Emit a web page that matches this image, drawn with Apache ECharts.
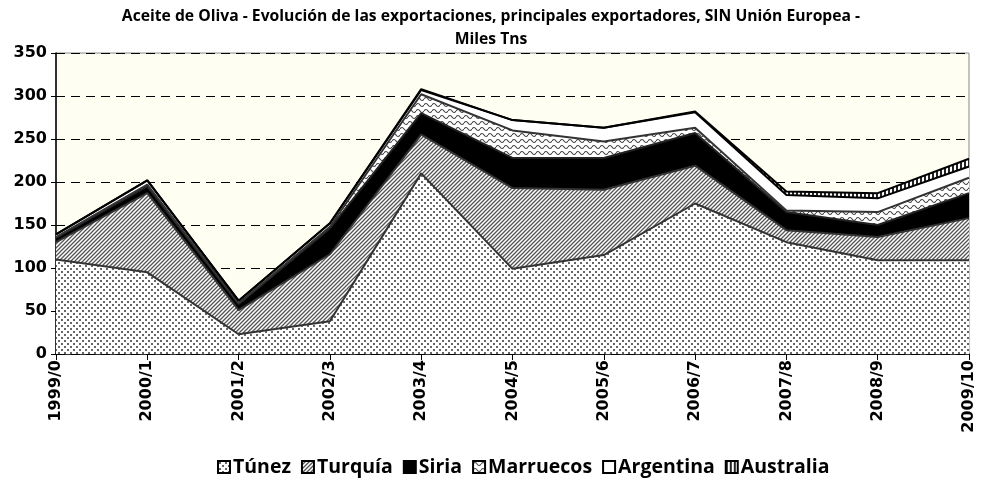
<!DOCTYPE html>
<html>
<head>
<meta charset="utf-8">
<script src="https://cdn.jsdelivr.net/npm/echarts@6/dist/echarts.min.js"></script>
<style>
  html, body { margin: 0; padding: 0; background: #fff; }
  #chart { width: 982px; height: 485px; }
</style>
</head>
<body>
<div id="chart"></div>
<script>
const campaigns = ['1999/0', '2000/1', '2001/2', '2002/3', '2003/4', '2004/5', '2005/6', '2006/7', '2007/8', '2008/9', '2009/10'];
const tunez = [110, 95, 23, 38, 210, 99, 115, 175, 130, 109, 109];
const turquia = [20, 92, 28, 78, 45, 94, 76, 44, 14, 27, 49];
const siria = [5, 8, 7, 30, 25, 35, 37, 38, 21, 14, 29];
const marruecos = [1, 2, 1, 2, 22, 32, 19, 6, 2, 15, 18];
const argentina = [3, 5, 3, 4, 5, 12, 16, 18, 18, 16, 13];
const australia = [0, 0, 0, 0, 1, 0, 0, 1, 4, 6, 9];
const yTicks = [0, 50, 100, 150, 200, 250, 300, 350];

// small canvas patterns, like the old Excel fills
function pattern(w, h, draw, bg) {
  const c = document.createElement('canvas');
  c.width = w; c.height = h;
  const ctx = c.getContext('2d');
  ctx.fillStyle = bg || '#fff';
  ctx.fillRect(0, 0, w, h);
  draw(ctx);
  return { image: c, repeat: 'repeat' };
}

const dots = pattern(6, 6, ctx => {
  ctx.fillStyle = '#666';
  ctx.fillRect(1, 1, 2, 2);
  ctx.fillRect(4, 4, 2, 2);
});
const diag = pattern(4, 4, ctx => {
  ctx.strokeStyle = '#555';
  ctx.lineWidth = 1.3;
  ctx.beginPath();
  ctx.moveTo(-1, 5); ctx.lineTo(5, -1);
  ctx.moveTo(-1, 1); ctx.lineTo(1, -1);
  ctx.moveTo(3, 5); ctx.lineTo(5, 3);
  ctx.stroke();
});
const wave = pattern(8, 6, ctx => {
  ctx.strokeStyle = '#444';
  ctx.lineWidth = 1.2;
  ctx.beginPath();
  ctx.moveTo(0, 3);
  ctx.quadraticCurveTo(2, 0, 4, 3);
  ctx.quadraticCurveTo(6, 6, 8, 3);
  ctx.stroke();
});
const ladder = pattern(4, 4, ctx => {
  ctx.fillStyle = '#222';
  ctx.fillRect(0, 0, 2, 4);
});
const paper = pattern(4, 4, ctx => {
  ctx.fillStyle = '#fbfbe6';
  ctx.fillRect(0, 0, 1, 1);
  ctx.fillRect(2, 2, 1, 1);
}, '#fffff6');
const solid = '#000';
const blank = '#fff';

function areaSeries(name, data, fill, line) {
  return {
    name: name,
    type: 'line',
    stack: 'total',
    data: data,
    symbol: 'none',
    lineStyle: { color: line, width: 2 },
    areaStyle: { color: fill, opacity: 1 },
    itemStyle: { color: fill, borderColor: '#000', borderWidth: 1 }
  };
}

const chart = echarts.init(document.getElementById('chart'));

chart.setOption({
  animation: false,
  title: {
    text: 'Aceite de Oliva - Evolución de las exportaciones, principales exportadores, SIN Unión Europea -\nMiles Tns',
    left: 'center',
    top: 0,
    textStyle: { fontFamily: 'Open Sans', fontWeight: 'bold', fontSize: 15.7, color: '#000', lineHeight: 23 }
  },
  legend: {
    bottom: 3,
    left: 212,
    icon: 'rect',
    itemWidth: 12,
    itemHeight: 12,
    itemGap: 10,
    textStyle: { fontFamily: 'Open Sans', fontWeight: 'bold', fontSize: 19.5, color: '#000', padding: [0, 0, 0, -2] },
    data: ['Túnez', 'Turquía', 'Siria', 'Marruecos', 'Argentina', 'Australia']
  },
  grid: {
    left: 56, right: 13, top: 53, bottom: 131,
    show: true,
    backgroundColor: paper,
    borderColor: '#888',
    borderWidth: 1
  },
  xAxis: {
    type: 'category',
    boundaryGap: false,
    data: campaigns,
    axisLine: { lineStyle: { color: '#000', width: 1.5 } },
    axisTick: { alignWithLabel: true, length: 6, lineStyle: { color: '#000' } },
    axisLabel: {
      rotate: 90,
      interval: 0,
      margin: 6,
      fontFamily: 'DejaVu Sans',
      fontWeight: 'bold',
      fontSize: 16,
      color: '#000'
    },
    splitLine: { show: false }
  },
  yAxis: {
    type: 'value',
    min: yTicks[0],
    max: yTicks[yTicks.length - 1],
    interval: 50,
    axisLine: { show: true, lineStyle: { color: '#000', width: 1.5 } },
    axisTick: { show: true, length: 5, lineStyle: { color: '#000' } },
    axisLabel: {
      margin: 9,
      fontFamily: 'DejaVu Sans',
      fontWeight: 'bold',
      fontSize: 16,
      color: '#000'
    },
    splitLine: { lineStyle: { color: '#000', type: [9, 6], width: 1 } }
  },
  series: [
    areaSeries('Túnez', tunez, dots, '#333'),
    areaSeries('Turquía', turquia, diag, '#333'),
    areaSeries('Siria', siria, solid, '#222'),
    areaSeries('Marruecos', marruecos, wave, '#333'),
    areaSeries('Argentina', argentina, blank, '#000'),
    areaSeries('Australia', australia, ladder, '#000')
  ]
});
</script>
</body>
</html>
